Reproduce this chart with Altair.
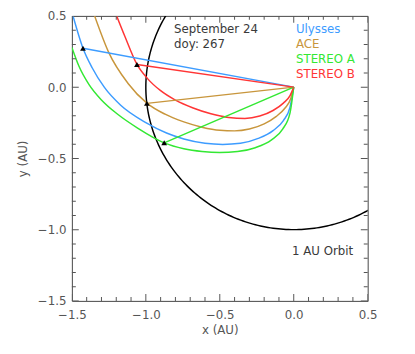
import numpy as np
import pandas as pd
import altair as alt

FONT = "DejaVu Sans"
AXIS_GRAY = "#555555"
TEXT_GRAY = "#3a3a3a"

PLOT_W = 301
PLOT_H = 290

X_DOMAIN = [-1.5, 0.5]
Y_DOMAIN = [-1.5, 0.5]
MAJOR_TICKS = [-1.5, -1.0, -0.5, 0.0, 0.5]
MINOR_TICKS = [-1.4, -1.3, -1.2, -1.1, -0.9, -0.8, -0.7, -0.6,
               -0.4, -0.3, -0.2, -0.1, 0.1, 0.2, 0.3, 0.4]

# spacecraft
CRAFT_NAMES = ["Ulysses", "ACE", "STEREO A", "STEREO B"]
CRAFT_COLORS = ["#3d9cff", "#c8963c", "#33e833", "#ff3535"]
CRAFT_X = [-1.425, -0.993, -0.876, -1.060]
CRAFT_Y = [0.273, -0.114, -0.391, 0.159]
SUN_X = 0.0
SUN_Y = 0.0

# spiral field lines (x increasing toward the Sun)
ULYSSES_SPIRAL_X = [-1.492, -1.425, -1.363, -1.280, -1.170, -1.000, -0.860, -0.743, -0.600, -0.480, -0.360, -0.240, -0.140, -0.070, -0.025, 0.0]
ULYSSES_SPIRAL_Y = [0.499, 0.273, 0.136, -0.002, -0.127, -0.249, -0.322, -0.364, -0.394, -0.402, -0.394, -0.360, -0.305, -0.235, -0.140, 0.0]

ACE_SPIRAL_X = [-1.346, -1.252, -1.120, -0.993, -0.870, -0.743, -0.621, -0.500, -0.400, -0.300, -0.200, -0.120, -0.060, -0.020, 0.0]
ACE_SPIRAL_Y = [0.499, 0.246, 0.026, -0.112, -0.190, -0.244, -0.281, -0.303, -0.307, -0.294, -0.258, -0.207, -0.148, -0.080, 0.0]

STEREO_A_SPIRAL_X = [-1.500, -1.452, -1.385, -1.300, -1.186, -1.053, -0.876, -0.743, -0.620, -0.500, -0.380, -0.260, -0.150, -0.075, -0.025, 0.0]
STEREO_A_SPIRAL_Y = [0.279, 0.147, 0.020, -0.090, -0.194, -0.289, -0.391, -0.432, -0.451, -0.458, -0.452, -0.425, -0.370, -0.295, -0.180, 0.0]

STEREO_B_SPIRAL_X = [-1.197, -1.142, -1.060, -0.987, -0.900, -0.800, -0.680, -0.560, -0.440, -0.330, -0.230, -0.140, -0.070, -0.025, 0.0]
STEREO_B_SPIRAL_Y = [0.499, 0.357, 0.159, 0.058, -0.025, -0.091, -0.146, -0.187, -0.213, -0.220, -0.203, -0.164, -0.112, -0.060, 0.0]

ORBIT_RADIUS_AU = 1.0

ANNOT_TEXT = ["September 24", "doy: 267", "1 AU Orbit"]
ANNOT_X = [-0.809, -0.809, -0.012]
ANNOT_Y = [0.405, 0.299, -1.147]
LEGEND_X = 0.015
LEGEND_Y = [0.405, 0.299, 0.196, 0.092]

# ---------- tables ----------
spiral_sets = [
    ("Ulysses", ULYSSES_SPIRAL_X, ULYSSES_SPIRAL_Y),
    ("ACE", ACE_SPIRAL_X, ACE_SPIRAL_Y),
    ("STEREO A", STEREO_A_SPIRAL_X, STEREO_A_SPIRAL_Y),
    ("STEREO B", STEREO_B_SPIRAL_X, STEREO_B_SPIRAL_Y),
]
rows = []
for name, xs_, ys_ in spiral_sets:
    for i, (a, b) in enumerate(zip(xs_, ys_)):
        rows.append({"craft": name, "x": a, "y": b, "order": i})
spirals = pd.DataFrame(rows)

craft = pd.DataFrame({"craft": CRAFT_NAMES, "x": CRAFT_X, "y": CRAFT_Y,
                      "x0": [SUN_X] * 4, "y0": [SUN_Y] * 4})

theta = np.linspace(0, 2 * np.pi, 361)
orbit = pd.DataFrame({"x": ORBIT_RADIUS_AU * np.cos(theta),
                      "y": ORBIT_RADIUS_AU * np.sin(theta),
                      "order": np.arange(361)})

annot = pd.DataFrame({"text": ANNOT_TEXT, "x": ANNOT_X, "y": ANNOT_Y})
legend = pd.DataFrame({"text": CRAFT_NAMES, "x": [LEGEND_X] * 4, "y": LEGEND_Y,
                       "color": CRAFT_COLORS})

# ---------- scales / axes (identical on every layer so they merge into one) ----------
xs = alt.Scale(domain=X_DOMAIN, nice=False, zero=False)
ys = alt.Scale(domain=Y_DOMAIN, nice=False, zero=False)
color = alt.Color("craft:N", scale=alt.Scale(domain=CRAFT_NAMES, range=CRAFT_COLORS), legend=None)

AX = dict(labelFont=FONT, labelFontSize=12, labelColor=AXIS_GRAY,
          titleFont=FONT, titleFontSize=12, titleFontWeight="normal", titleColor=AXIS_GRAY,
          grid=False, domain=False, ticks=False, labelFlush=False, labelOverlap=False,
          values=MAJOR_TICKS, format=".1f")
X_AXIS = alt.Axis(orient="bottom", title="x (AU)", labelPadding=9, titlePadding=4, **AX)
Y_AXIS = alt.Axis(orient="left", title="y (AU)", labelPadding=6, titlePadding=8, **AX)


def X(field):
    return alt.X(field, type="quantitative", scale=xs, axis=X_AXIS)


def Y(field):
    return alt.Y(field, type="quantitative", scale=ys, axis=Y_AXIS)


orbit_layer = alt.Chart(orbit).mark_line(color="black", strokeWidth=1.5, clip=True).encode(
    x=X("x"), y=Y("y"), order="order:Q",
)

spiral_layer = alt.Chart(spirals).mark_line(strokeWidth=1.5, clip=True, interpolate="monotone").encode(
    x=X("x"), y=Y("y"), color=color, detail="craft:N", order="order:Q",
)

line_layer = alt.Chart(craft).mark_rule(strokeWidth=1.5, clip=True).encode(
    x=X("x0"), y=Y("y0"), x2="x:Q", y2="y:Q", color=color,
)

tri_layer = alt.Chart(craft).mark_point(shape="triangle-up", filled=True, color="black",
                                        size=34, opacity=1, clip=True).encode(
    x=X("x"), y=Y("y"),
)

annot_layer = alt.Chart(annot).mark_text(align="left", baseline="middle", font=FONT,
                                         fontSize=12, color=TEXT_GRAY).encode(
    x=X("x"), y=Y("y"), text="text:N",
)

legend_layer = alt.Chart(legend).mark_text(align="left", baseline="middle", font=FONT,
                                           fontSize=12).encode(
    x=X("x"), y=Y("y"), text="text:N", color=alt.Color("color:N", scale=None),
)


# inward-pointing frame ticks: ticks centred on the frame edge, outer half clipped
def edge_ticks(values, side, length):
    if side in ("bottom", "top"):
        edge = Y_DOMAIN[0] if side == "bottom" else Y_DOMAIN[1]
        df = pd.DataFrame({"v": values, "e": [edge] * len(values)})
        return alt.Chart(df).mark_tick(orient="vertical", size=2 * length, thickness=1,
                                       color=AXIS_GRAY, clip=True, opacity=1).encode(
            x=X("v"), y=Y("e"),
        )
    edge = X_DOMAIN[0] if side == "left" else X_DOMAIN[1]
    df = pd.DataFrame({"v": values, "e": [edge] * len(values)})
    return alt.Chart(df).mark_tick(orient="horizontal", size=2 * length, thickness=1,
                                   color=AXIS_GRAY, clip=True, opacity=1).encode(
        y=Y("v"), x=X("e"),
    )


tick_layers = []
for side in ("bottom", "top", "left", "right"):
    tick_layers.append(edge_ticks(MAJOR_TICKS, side, 7))
    tick_layers.append(edge_ticks(MINOR_TICKS, side, 4))

chart = alt.layer(
    orbit_layer, spiral_layer, line_layer, tri_layer, annot_layer, legend_layer, *tick_layers
).properties(
    width=PLOT_W, height=PLOT_H,
    autosize=alt.AutoSizeParams(type="none"),
    padding={"left": 65, "top": 5, "right": 40, "bottom": 50},
    background="white",
).configure_view(stroke="#444444", strokeWidth=1)

chart.save("out.html", embed_options={"renderer": "svg", "actions": False})
